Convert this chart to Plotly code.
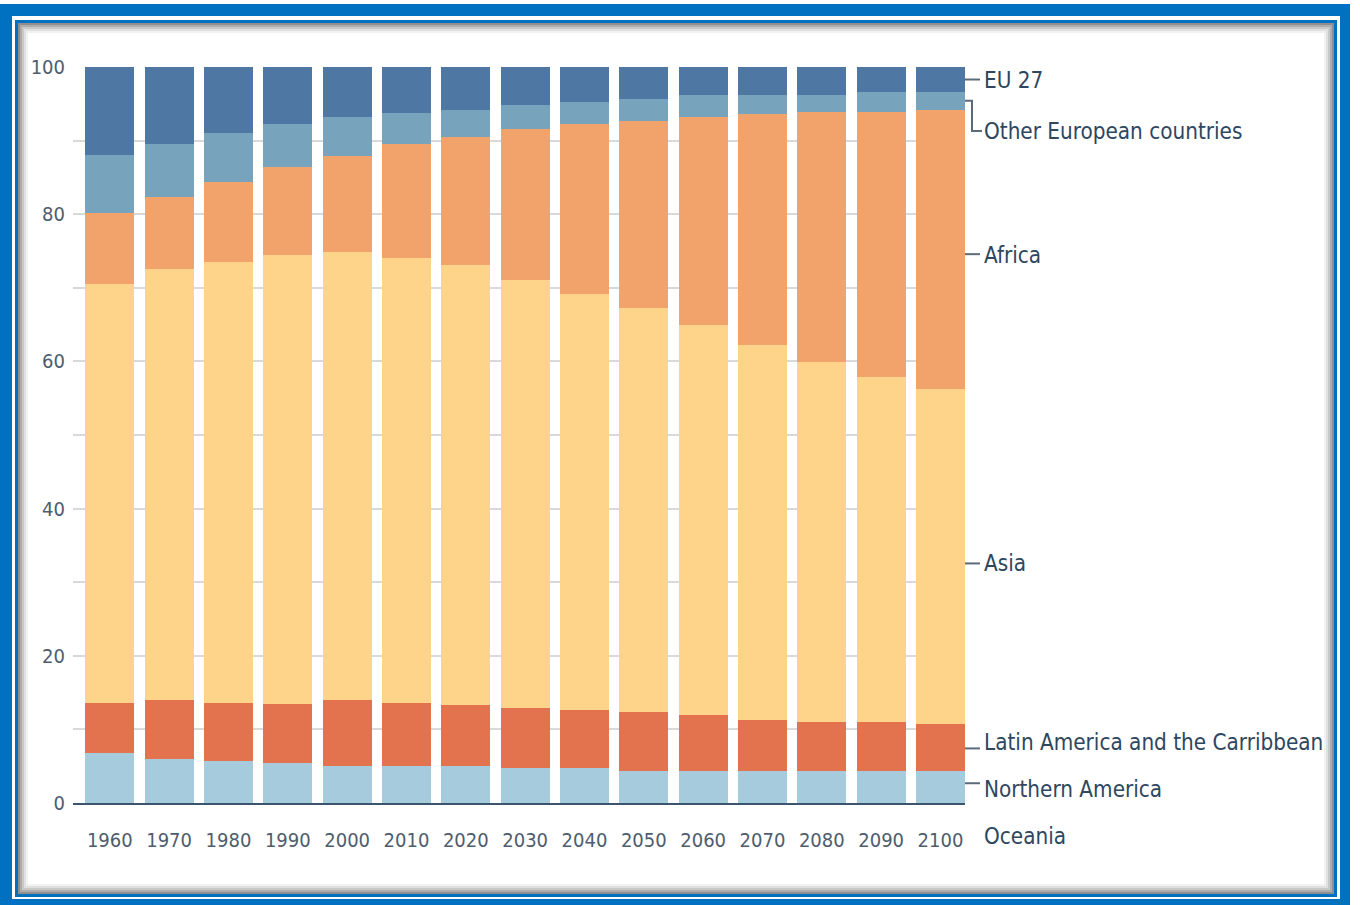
import numpy as np
import plotly.graph_objects as go

years = ["1960", "1970", "1980", "1990", "2000", "2010", "2020", "2030",
         "2040", "2050", "2060", "2070", "2080", "2090", "2100"]

oceania = [0.5, 0.5, 0.5, 0.5, 0.5, 0.5, 0.5, 0.6, 0.6, 0.6, 0.6, 0.6, 0.6, 0.7, 0.7]
northern_america = [6.3, 5.5, 5.2, 4.9, 4.5, 4.5, 4.5, 4.1, 4.1, 3.8, 3.8, 3.8, 3.8, 3.7, 3.7]
latin_america = [6.8, 8.0, 7.9, 8.1, 9.0, 8.6, 8.3, 8.2, 7.9, 7.9, 7.6, 6.9, 6.6, 6.6, 6.3]
asia = [56.9, 58.5, 59.9, 61.0, 60.8, 60.4, 59.8, 58.2, 56.6, 54.9, 52.9, 50.9, 48.9, 46.9, 45.6]
africa = [9.7, 9.9, 10.9, 11.9, 13.1, 15.6, 17.4, 20.5, 23.1, 25.4, 28.3, 31.4, 34.0, 36.0, 37.9]
other_europe = [7.8, 7.2, 6.6, 5.9, 5.3, 4.2, 3.7, 3.3, 3.0, 3.0, 3.0, 2.6, 2.3, 2.7, 2.4]
eu27 = [12.0, 10.4, 9.0, 7.7, 6.8, 6.2, 5.8, 5.1, 4.7, 4.4, 3.8, 3.8, 3.8, 3.4, 3.4]

names = ["Oceania", "Northern America", "Latin America and the Carribbean",
         "Asia", "Africa", "Other European countries", "EU 27"]
series = [oceania, northern_america, latin_america, asia, africa, other_europe, eu27]
colors = ["#a5cbdc", "#a5cbdc", "#e3734f", "#fed48b", "#f2a36b", "#77a3bd", "#4f77a4"]

# pixel geometry of plot area
W, H = 1360, 905
L, R, T, B = 73, 965, 67, 803


def px(x):
    return (x - L) / (R - L)


def py(y):
    return (B - y) / (B - T)


fig = go.Figure()
for n, s, c in zip(names, series, colors):
    fig.add_trace(go.Bar(x=years, y=s, name=n, marker=dict(color=c, line=dict(width=0)),
                         hoverinfo="skip"))

shapes = []
# frame
frame = [
    ((0, 4, 1350, 910), "#0070c0"),
    ((12, 16, 1340, 899), "#ffffff"),
    ((15, 20, 1337, 897), "#0070c0"),
    ((18, 23, 1334, 894), "#8f8f8f"),
    ((20, 25, 1332, 892), "#adadad"),
    ((22, 27, 1330, 890), "#c9c9c9"),
    ((24, 29, 1328, 888), "#e0e0e0"),
    ((26, 31, 1326, 886), "#f2f2f2"),
    ((28, 33, 1324, 884), "#ffffff"),
]
for (x0, y0, x1, y1), col in frame:
    shapes.append(dict(type="rect", xref="paper", yref="paper", layer="below",
                       x0=px(x0), x1=px(x1), y0=py(y0), y1=py(y1),
                       fillcolor=col, line=dict(width=0)))

# labels computed from last bar
last = [s[-1] for s in series]
tops = np.cumsum(last)
bots = tops - np.array(last)
mids = (tops + bots) / 2

# pixel nudges (line shift, text shift) relative to segment midpoint
nudge = {
    "Northern America": (1, -5),
    "Latin America and the Carribbean": (-1, 5),
    "Asia": (-7, -7),
    "Africa": (-5, -6),
    "EU 27": (0, 0),
}

line_col = "#5b6b7a"
lab_col = "#2d4760"
font_lab = "DejaVu Sans Condensed, Roboto, sans-serif"
lab_size = 22.3
annotations = []
x_line0, x_line1, x_text = 1.0, px(980), px(982)
ppu = (B - T) / 100.0
for i, n in enumerate(names):
    if n == "Oceania":
        annotations.append(dict(x=x_text, y=py(836), xref="paper", yref="paper", text=n,
                                showarrow=False, xanchor="left", yanchor="middle",
                                font=dict(family=font_lab, size=lab_size, color=lab_col)))
        continue
    if n == "Other European countries":
        xb = px(972)
        ylab = mids[i] - 4.1
        shapes.append(dict(type="path", xref="paper", yref="y",
                           path=f"M {x_line0} {mids[i]} L {xb} {mids[i]} L {xb} {ylab} L {px(982)} {ylab}",
                           line=dict(color=line_col, width=2)))
        tshift = 0
    else:
        lshift, tshift = nudge[n]
        yl = mids[i] + lshift / ppu
        shapes.append(dict(type="line", xref="paper", yref="y", x0=x_line0, x1=x_line1,
                           y0=yl, y1=yl, line=dict(color=line_col, width=2)))
        ylab = mids[i]
    annotations.append(dict(x=x_text, y=ylab, xref="paper", yref="y", text=n,
                            showarrow=False, xanchor="left", yanchor="middle", yshift=tshift,
                            font=dict(family=font_lab, size=lab_size, color=lab_col)))

ytv = list(range(0, 101, 10))
ytt = [str(v) if v % 20 == 0 else "" for v in ytv]

tick_font = dict(family=font_lab, size=20, color="#4d5d6e")

fig.update_layout(
    width=W, height=H,
    margin=dict(l=L, r=W - R, t=T, b=H - B, pad=0),
    paper_bgcolor="#ffffff",
    plot_bgcolor="rgba(0,0,0,0)",
    barmode="stack",
    bargap=0.174,
    showlegend=False,
    shapes=shapes,
    annotations=annotations,
    xaxis=dict(type="category", range=[-0.62, 14.413], showgrid=False,
               showline=True, linecolor="#3b556e", linewidth=2,
               ticks="outside", ticklen=18, tickcolor="rgba(0,0,0,0)",
               tickfont=tick_font, fixedrange=True),
    yaxis=dict(range=[0, 100], tickvals=ytv, ticktext=ytt, showgrid=True,
               gridcolor="#d9d9d9", gridwidth=2, zeroline=False, showline=False,
               ticks="outside", ticklen=3, tickcolor="rgba(0,0,0,0)",
               tickfont=tick_font, fixedrange=True),
)

fig.write_html("out.html", config={"displayModeBar": False},
               post_script="document.body.style.margin='0';document.body.style.overflow='hidden';")
